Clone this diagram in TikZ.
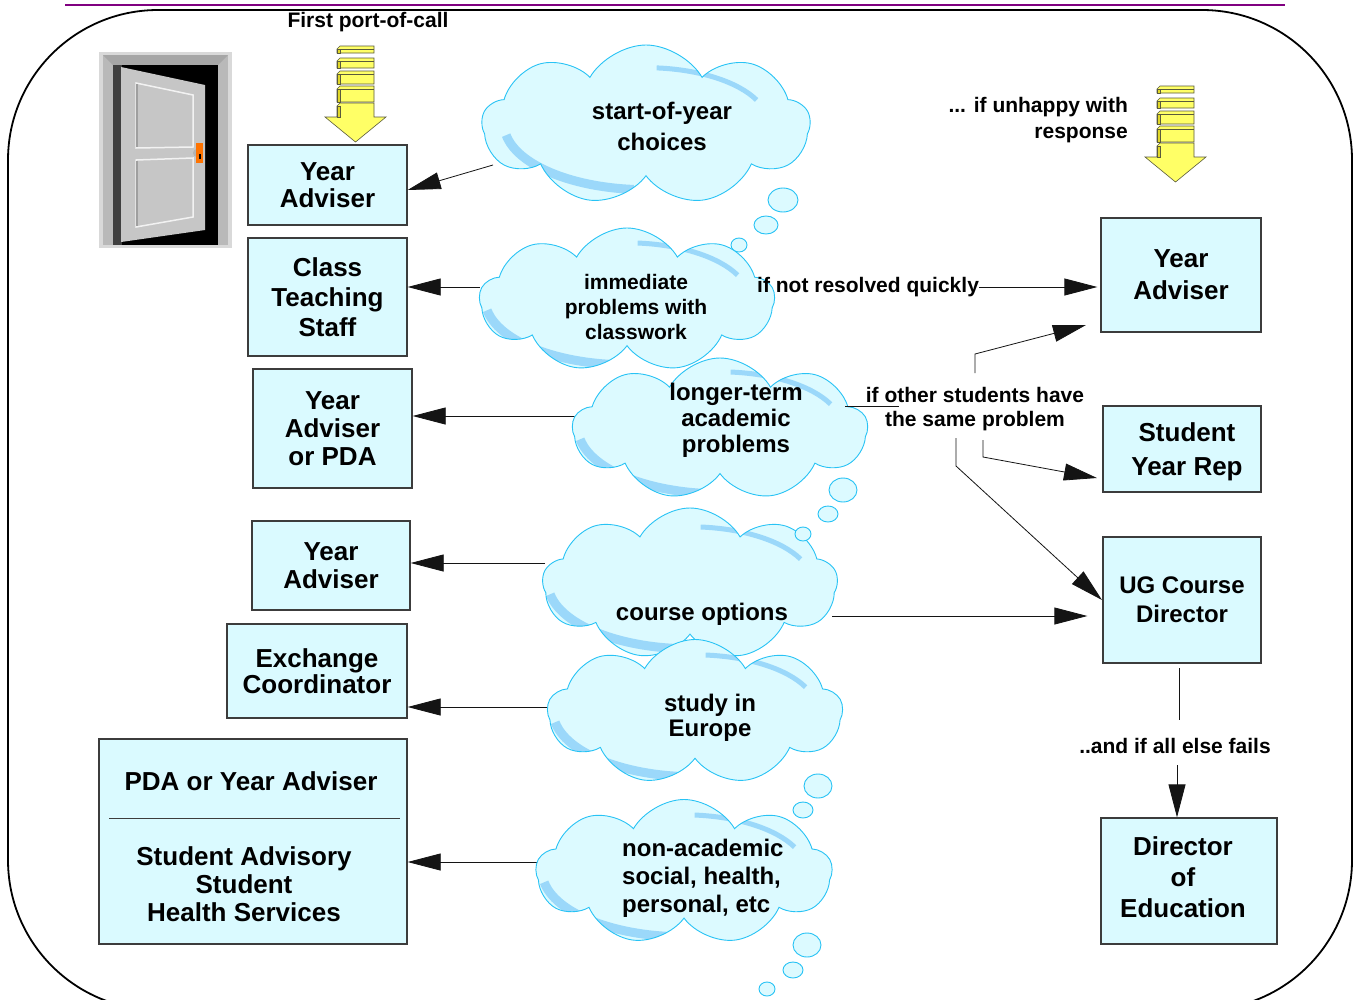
\documentclass[tikz,border=0pt]{standalone}
\usepackage{fontspec}
\setmainfont{Liberation Sans}
\usetikzlibrary{shapes.symbols,arrows.meta,calc}

\definecolor{boxfill}{RGB}{218,250,255}
\definecolor{boxline}{RGB}{60,60,60}
\definecolor{cloudfill}{RGB}{220,250,255}
\definecolor{cloudline}{RGB}{40,195,245}
\definecolor{cloudshade}{RGB}{155,216,250}
\definecolor{arrowyellow}{RGB}{255,255,102}
\definecolor{arrowside}{RGB}{225,215,40}
\definecolor{arrowedge}{RGB}{90,90,60}
\definecolor{topline}{RGB}{128,0,128}
\definecolor{connline}{RGB}{20,20,20}

\tikzset{
  box/.style={draw=boxline, line width=1.3pt, fill=boxfill, align=center, inner sep=0pt},
  arr/.style={draw=connline, line width=0.8pt, -{Triangle[length=33pt,width=17pt]}},
  conn/.style={draw=connline, line width=0.8pt},
  lbl/.style={inner sep=0pt, font=\bfseries\fontsize{21}{25}\selectfont},
  cloudtext/.style={inner sep=0pt, align=center, font=\bfseries\fontsize{24}{26}\selectfont},
  cloudshape/.style={cloud, cloud puffs=9, cloud puff arc=120, cloud ignores aspect,
    draw=cloudline, line width=0.9pt, fill=cloudfill, inner sep=0pt,
    path picture={
      \draw[cloudshade, line width=9pt]
        ($(path picture bounding box.center)+(190:142 and 66)$) arc[start angle=190, end angle=265, x radius=142, y radius=66];
      \draw[cloudshade, line width=5pt]
        ($(path picture bounding box.center)+(25:122 and 56)$) arc[start angle=25, end angle=85, x radius=122, y radius=56];
    }},
  bubble/.style={draw=cloudline, line width=0.9pt, fill=cloudfill},
  stackarrow/.pic={
    \foreach \ya/\yb in {0/7,12/22,25/38,40/56}{
      \filldraw[fill=arrowyellow, draw=arrowedge, line width=0.6pt]
        (-18.5,-\ya-3) -- (-15.5,-\ya) -- (18.5,-\ya) -- (18.5,-\yb) -- (-18.5,-\yb) -- cycle;
      \filldraw[fill=arrowside, draw=arrowedge, line width=0.6pt]
        (-18.5,-\ya-3) -- (-15.5,-\ya-3) -- (-15.5,-\yb) -- (-18.5,-\yb) -- cycle;
      \draw[arrowedge, line width=0.6pt] (-15.5,-\ya-3) -- (18.5,-\ya-3);
    }
    \filldraw[fill=arrowyellow, draw=arrowedge, line width=0.6pt]
      (-18.5,-60) -- (-15.5,-57) -- (18.5,-57) -- (18.5,-71) -- (30.5,-71) -- (0,-96) -- (-30.5,-71) -- (-18.5,-71) -- cycle;
    \filldraw[fill=arrowside, draw=arrowedge, line width=0.6pt]
      (-18.5,-60) -- (-15.5,-60) -- (-15.5,-71) -- (-18.5,-71) -- cycle;
  }
}

\begin{document}
\begin{tikzpicture}[x=1pt,y=1pt]
\useasboundingbox (0,0) rectangle (1354,-999);
\fill[white] (0,0) rectangle (1354,-999);

% top rule and frame
\draw[topline, line width=2pt] (65,-5) -- (1285,-5);
\draw[black, line width=1.8pt, rounded corners=150] (8,-10) rectangle (1352,-1010);

% door
\fill[gray!30] (99,-52) rectangle (232,-248);
\fill[gray!55] (103,-55) rectangle (228,-245);
\fill[gray!70] (103,-55) -- (228,-55) -- (218,-65) -- (113,-65) -- cycle;
\fill[black] (113,-65) rectangle (218,-245);
\fill[black!75] (113,-65) rectangle (122,-245);
\fill[gray!45] (121,-67) -- (205,-85) -- (205,-230) -- (121,-242) -- cycle;
\draw[white!90!gray, line width=1.5pt] (136,-83) -- (193,-95) -- (193,-147) -- (136,-148) -- cycle;
\draw[white!90!gray, line width=1.5pt] (136,-160) -- (193,-158) -- (193,-217) -- (136,-227) -- cycle;
\draw[gray!75, line width=1.5pt] (137,-84) -- (137,-147);
\draw[gray!75, line width=1.5pt] (137,-161) -- (137,-226);
\fill[gray!60] (197,-153) circle (4);
\fill[orange!90!red] (196,-143) rectangle (203,-163);
\fill[black] (198.5,-154) rectangle (200.5,-159);

% stacked yellow arrows
\pic at (355.5,-46) {stackarrow};
\pic at (1175.5,-86) {stackarrow};

% boxes
\node[box, minimum width=159pt, minimum height=80pt, font=\bfseries\fontsize{26}{27}\selectfont] (b1) at (327.5,-185) {Year\\Adviser};
\node[box, minimum width=159pt, minimum height=118pt, font=\bfseries\fontsize{26}{30}\selectfont] (b2) at (327.5,-297) {Class\\Teaching\\Staff};
\node[box, minimum width=159pt, minimum height=119pt, font=\bfseries\fontsize{26}{28}\selectfont] (b3) at (332.5,-428.5) {Year\\Adviser\\or PDA};
\node[box, minimum width=158pt, minimum height=89pt, font=\bfseries\fontsize{26}{28}\selectfont] (b4) at (331,-565.5) {Year\\Adviser};
\node[box, minimum width=180pt, minimum height=94pt, font=\bfseries\fontsize{26}{26}\selectfont] (b5) at (317,-671) {Exchange\\Coordinator};
\node[box, minimum width=308pt, minimum height=205pt] (b6) at (253,-841.5) {};
\node[inner sep=0pt, font=\bfseries\fontsize{26}{28}\selectfont] (b6a) at (251,-781) {PDA or Year Adviser};
\draw[boxline, line width=1pt] (109,-818) -- (400,-818);
\node[inner sep=0pt, align=center, font=\bfseries\fontsize{26}{28}\selectfont] (b6b) at (244,-884) {Student Advisory\\Student\\Health Services};

\node[box, minimum width=160pt, minimum height=114pt, font=\bfseries\fontsize{26}{32}\selectfont] (r1) at (1181,-275) {Year\\Adviser};
\node[box, minimum width=158pt, minimum height=86pt] (r2) at (1182,-449) {};
\node[inner sep=0pt, align=center, font=\bfseries\fontsize{26}{34}\selectfont] (r2t) at (1187,-452) {Student\\Year Rep};
\node[box, minimum width=158pt, minimum height=126pt, font=\bfseries\fontsize{24}{29}\selectfont] (r3) at (1182,-600) {UG Course\\Director};
\node[box, minimum width=176pt, minimum height=126pt] (r4) at (1189,-881) {};
\node[inner sep=0pt, align=center, font=\bfseries\fontsize{26}{31}\selectfont] (r4t) at (1183,-877) {Director\\of\\Education};

% connector end points
\coordinate (c1o) at (493,-165);
\coordinate (c2o) at (480,-287);
\coordinate (c3o) at (575,-416);
\coordinate (c4o) at (545,-563);
\coordinate (c5o) at (548,-707);
\coordinate (c6o) at (537,-862);
\coordinate (c4r) at (832,-616);
\coordinate (c3r) at (845,-406);
\coordinate (u1) at (899,-406);

% left connectors
\draw[arr] (c1o) -- ([yshift=-5pt]b1.east);
\draw[arr] (c2o) -- (c2o -| b2.east);
\draw[arr] (c3o) -- (c3o -| b3.east);
\draw[arr] (c4o) -- (c4o -| b4.east);
\draw[arr] (c5o) -- (c5o -| b5.east);
\draw[arr] (c6o) -- (c6o -| b6.east);

% clouds
\node[cloudshape, minimum width=328pt, minimum height=160pt] (c1) at (646,-125) {};
\foreach \bx/\by/\rx/\ry in {783/200/15/12, 766/225/12/9, 739/245/8/7}
  \draw[bubble] (\bx,-\by) ellipse [x radius=\rx, y radius=\ry];
\node[cloudshape, minimum width=295pt, minimum height=144pt] (c2) at (627,-300) {};
\node[cloudshape, minimum width=295pt, minimum height=142pt] (c3) at (720,-429) {};
\node[cloudshape, minimum width=295pt, minimum height=152pt] (c4) at (690,-584) {};
\foreach \bx/\by/\rx/\ry in {843/490/14/12, 828/514/10/8, 803/534/8/7}
  \draw[bubble] (\bx,-\by) ellipse [x radius=\rx, y radius=\ry];
\node[cloudshape, minimum width=295pt, minimum height=145pt] (c5) at (695,-712) {};
\foreach \bx/\by/\rx/\ry in {818/786/14/12, 803/810/10/8, 779/828/8/7}
  \draw[bubble] (\bx,-\by) ellipse [x radius=\rx, y radius=\ry];
\node[cloudshape, minimum width=296pt, minimum height=145pt] (c6) at (684,-872) {};
\foreach \bx/\by/\rx/\ry in {807/945/14/12, 793/970/10/8, 767/989/8/7}
  \draw[bubble] (\bx,-\by) ellipse [x radius=\rx, y radius=\ry];

% cloud texts
\node[cloudtext, font=\bfseries\fontsize{24}{31}\selectfont] (c1t) at (662,-126) {start-of-year\\choices};
\node[cloudtext, font=\bfseries\fontsize{21}{25}\selectfont] (c2t) at (636,-307) {immediate\\problems with\\classwork};
\node[cloudtext] (c3t) at (736,-420) {longer-term\\academic\\problems};
\node[cloudtext] (c4t) at (702,-614) {course options};
\node[cloudtext, font=\bfseries\fontsize{24}{25}\selectfont] (c5t) at (710,-718) {study in\\Europe};
\node[cloudtext, align=left, anchor=west, font=\bfseries\fontsize{24}{28}\selectfont] (c6t) at (622,-878) {non-academic\\social, health,\\personal, etc};

% labels
\node[lbl] (first) at (368,-22) {First port-of-call};
\node[lbl, align=right, anchor=east, font=\bfseries\fontsize{21}{26}\selectfont] (unhappy) at (1128,-120) {... if unhappy with\\response};
\node[lbl, anchor=west] (quick) at (757,-287) {if not resolved quickly};
\node[lbl, align=center, font=\bfseries\fontsize{21}{24}\selectfont] (other) at (975,-409) {if other students have\\the same problem};
\node[lbl] (fails) at (1175,-746) {..and if all else fails};

% right connectors
\coordinate (o1) at (975,-373);
\coordinate (o1b) at (975,-354);
\coordinate (o1t) at (1086,-325);
\coordinate (o2) at (983,-440);
\coordinate (o2b) at (983,-457);
\coordinate (o2t) at (1097,-478);
\coordinate (o3) at (956,-438);
\coordinate (o3b) at (956,-466);
\coordinate (o3t) at (1102,-600);
\coordinate (ug1) at (1179,-668);
\coordinate (ug2) at (1179,-720);
\coordinate (f1) at (1177,-765);

\draw[arr, shorten >=3pt] (quick.east) -- (quick.east -| r1.west);
\draw[conn] (c3r) -- (u1);
\draw[arr] (o1) -- (o1b) -- (o1t);
\draw[arr] (o2) -- (o2b) -- (o2t);
\draw[arr] (o3) -- (o3b) -- (o3t);
\draw[arr, shorten >=15pt] (c4r) -- (c4r -| r3.west);
\draw[conn] (ug1) -- (ug2);
\draw[arr] (f1) -- (f1 |- r4.north);
\end{tikzpicture}
\end{document}
